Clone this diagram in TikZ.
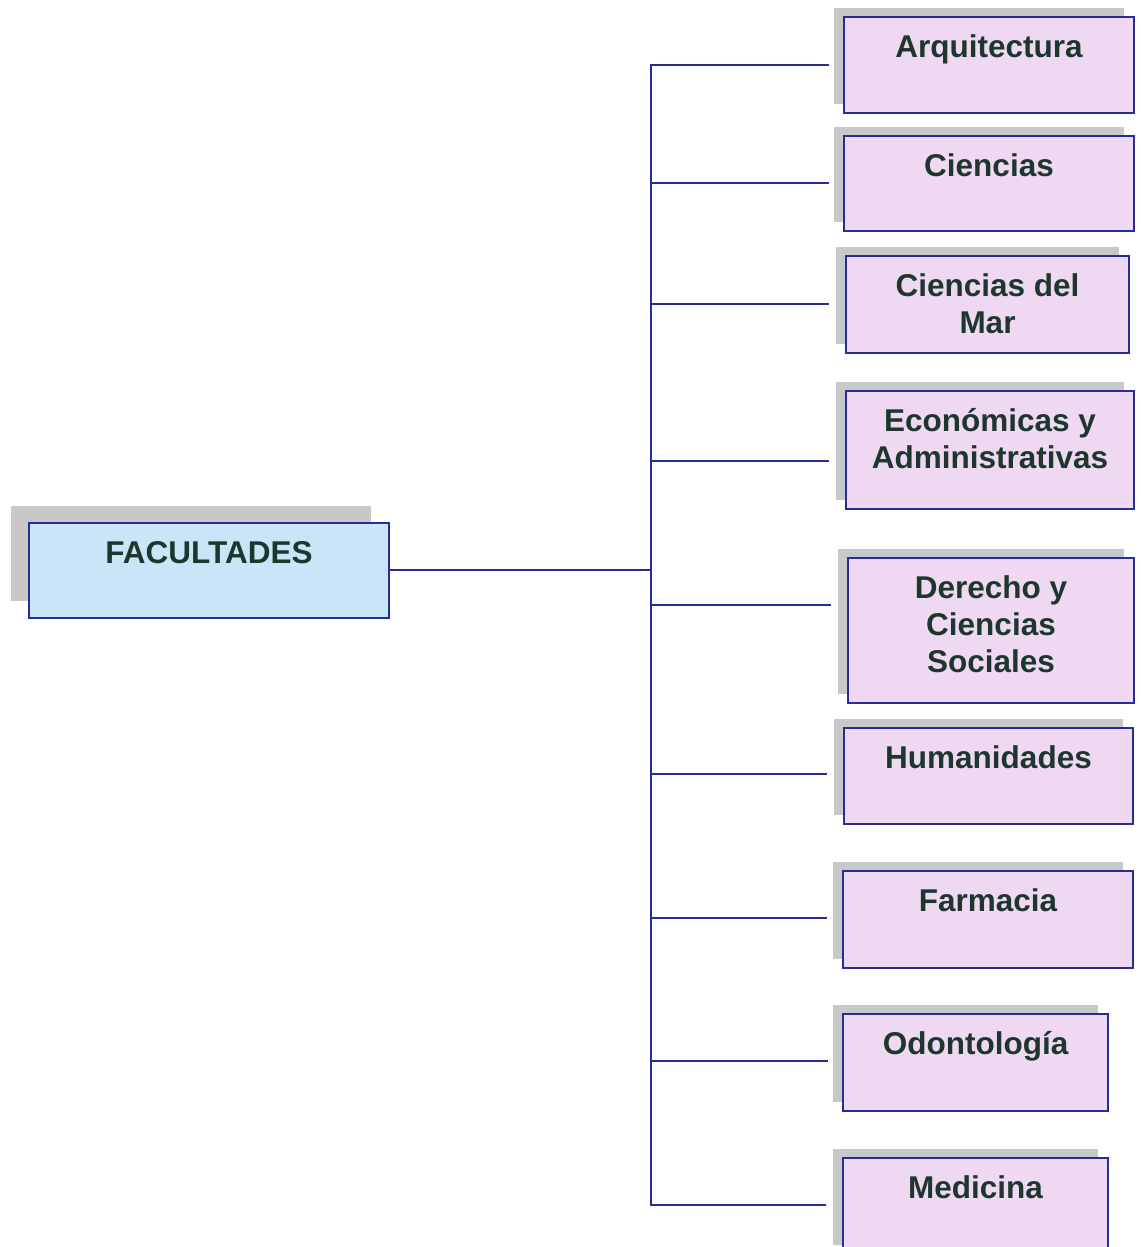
\documentclass[tikz,border=0pt]{standalone}
\usepackage{fontspec}
\setmainfont{Liberation Sans}
\definecolor{bordercol}{HTML}{2A2C96}
\definecolor{pinkfill}{HTML}{EFD8F1}
\definecolor{bluefill}{HTML}{C9E6F8}
\definecolor{shadowcol}{HTML}{C8C8C8}
\definecolor{textcol}{HTML}{1E372E}
\tikzset{
  fbox/.style={draw=bordercol, line width=2pt, fill=pinkfill, anchor=north west, inner sep=0pt},
  ftext/.style={font=\bfseries\fontsize{31.5}{37}\selectfont, text=textcol, align=center, anchor=north, inner sep=0pt, yshift=-15pt},
  shad/.style={fill=shadowcol, draw=none},
  conn/.style={draw=bordercol, line width=2pt},
}
\newcommand\facbx[7]{%
  \fill[shad] (#2-9,#3-8) rectangle ++(#4,#5);
  \node[fbox, #7, minimum width=#4pt, minimum height=#5pt,
        label={[ftext]north:{\rule{0pt}{26pt}#6}}] (#1) at (#2,#3) {};
}
\begin{document}
\begin{tikzpicture}[x=1pt, y=-1pt]
\useasboundingbox (0,0) rectangle (1140,1247);
\clip (0,0) rectangle (1140,1247);
% main box
\fill[shad] (11,506) rectangle ++(360,95);
\node[fbox, fill=bluefill, minimum width=360pt, minimum height=95pt,
      label={[ftext]north:{\rule{0pt}{26pt}FACULTADES}}] (fac) at (28,522) {};
% faculty boxes
\facbx{arq}{843}{16}{290}{96}{Arquitectura}{}
\facbx{cie}{843}{135}{290}{95}{Ciencias}{}
\facbx{mar}{845}{255}{283}{97}{Ciencias del\\Mar}{}
\facbx{eco}{845}{390}{288}{118}{Económicas y\\Administrativas}{}
\facbx{der}{847}{557}{286}{145}{Derecho y\\Ciencias\\Sociales}{}
\facbx{hum}{843}{727}{289}{96}{Humanidades}{}
\facbx{far}{842}{870}{290}{97}{Farmacia}{}
\facbx{odo}{842}{1013}{265}{97}{Odontología}{}
\facbx{med}{842}{1157}{265}{96}{Medicina}{}
% connector coordinates
\coordinate (jn) at (651,570);
\coordinate (t1) at (651,65);   \coordinate (e1) at (829,65);
\coordinate (t2) at (651,183);  \coordinate (e2) at (829,183);
\coordinate (t3) at (651,304);  \coordinate (e3) at (829,304);
\coordinate (t4) at (651,461);  \coordinate (e4) at (829,461);
\coordinate (t5) at (651,605);  \coordinate (e5) at (831,605);
\coordinate (t6) at (651,774);  \coordinate (e6) at (827,774);
\coordinate (t7) at (651,918);  \coordinate (e7) at (827,918);
\coordinate (t8) at (651,1061); \coordinate (e8) at (828,1061);
\coordinate (t9) at (651,1205); \coordinate (e9) at (826,1205);
\draw[conn] (fac.east |- jn) -- (jn);
\draw[conn] (e1) -- (t1) -- (t9) -- (e9);
\foreach \i in {2,...,8} { \draw[conn] (t\i) -- (e\i); }
\end{tikzpicture}
\end{document}
